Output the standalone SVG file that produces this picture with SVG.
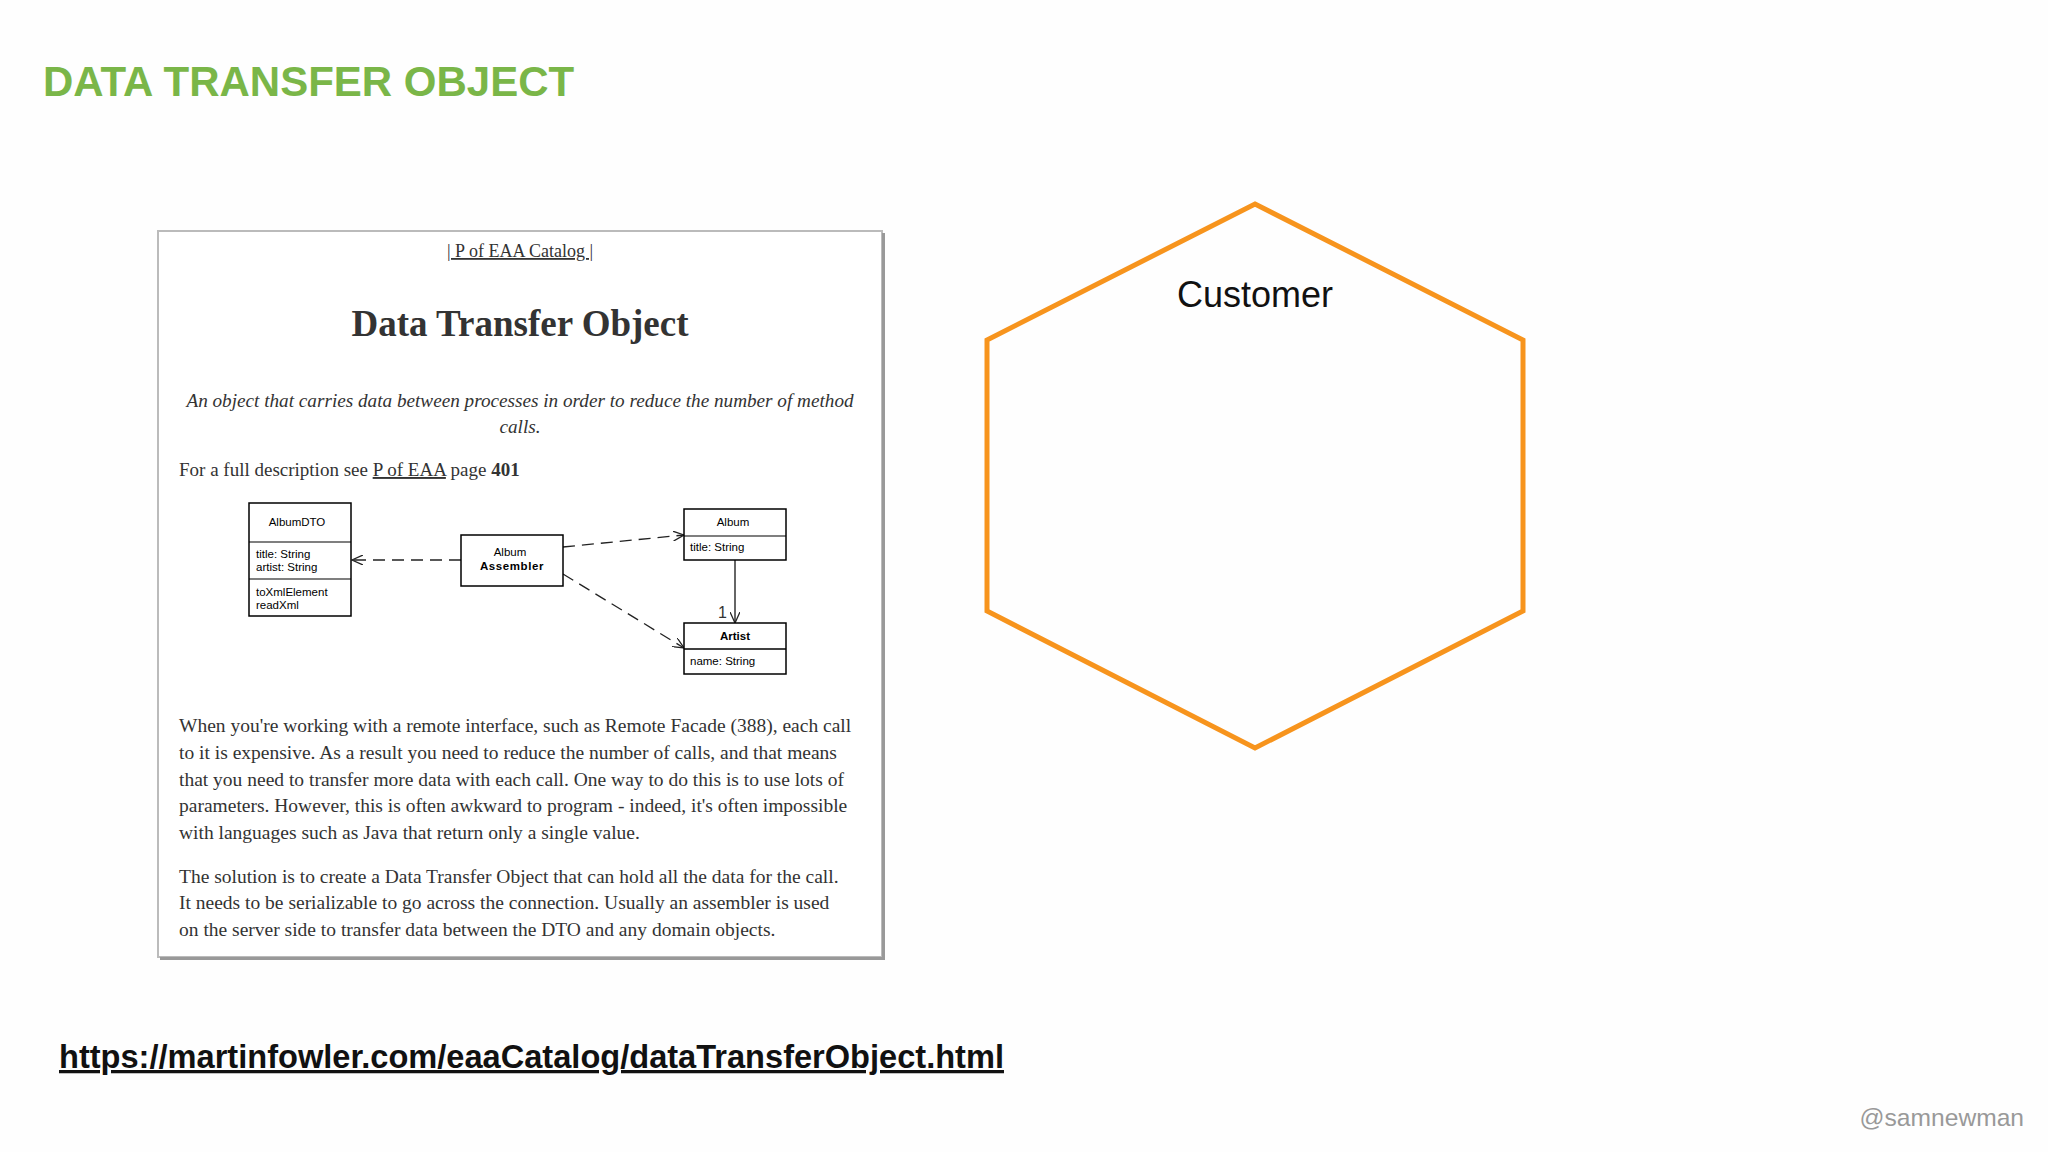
<svg xmlns="http://www.w3.org/2000/svg" width="2048" height="1152" viewBox="0 0 2048 1152">
<style>
.serif{font-family:"Liberation Serif","DejaVu Serif",serif;fill:#333}
.uml{font-family:"Liberation Sans",Arial,sans-serif;font-size:11.5px;fill:#000}
.box{fill:#fff;stroke:#000;stroke-width:1.5}
.dash{stroke:#222;stroke-width:1.3;stroke-dasharray:12 7;fill:none}
</style>
<defs>
<marker id="open" markerWidth="12" markerHeight="10" refX="11" refY="5" orient="auto" markerUnits="userSpaceOnUse">
<path d="M0,0 L11,5 L0,10" fill="none" stroke="#222" stroke-width="1.3"/>
</marker>
</defs>
<rect width="2048" height="1152" fill="#fefefe"/>
<text x="43" y="96" font-family="Liberation Sans,Arial,sans-serif" font-weight="bold" font-size="42" fill="#7ab648">DATA TRANSFER OBJECT</text>

<g id="panel">
<rect x="158" y="231" width="724" height="726" fill="#fff" stroke="#bbb" stroke-width="2"/>
<rect x="882" y="233" width="3" height="726" fill="#999"/>
<rect x="160" y="957" width="725" height="3" fill="#999"/>
<text x="520" y="257" class="serif" font-size="18" text-anchor="middle" text-decoration="underline">| P of EAA Catalog |</text>
<text x="520" y="336" class="serif" font-size="37" font-weight="bold" text-anchor="middle">Data Transfer Object</text>
<text x="520" y="407" class="serif" font-size="19.2" font-style="italic" text-anchor="middle">An object that carries data between processes in order to reduce the number of method</text>
<text x="520" y="433" class="serif" font-size="19.2" font-style="italic" text-anchor="middle">calls.</text>
<text x="179" y="476" class="serif" font-size="19">For a full description see <tspan text-decoration="underline">P of EAA</tspan> page <tspan font-weight="bold">401</tspan></text>
<g class="serif" font-size="19.5">
<text x="179" y="732">When you're working with a remote interface, such as Remote Facade (388), each call</text>
<text x="179" y="759">to it is expensive. As a result you need to reduce the number of calls, and that means</text>
<text x="179" y="786">that you need to transfer more data with each call. One way to do this is to use lots of</text>
<text x="179" y="812">parameters. However, this is often awkward to program - indeed, it's often impossible</text>
<text x="179" y="839">with languages such as Java that return only a single value.</text>
<text x="179" y="883">The solution is to create a Data Transfer Object that can hold all the data for the call.</text>
<text x="179" y="909">It needs to be serializable to go across the connection. Usually an assembler is used</text>
<text x="179" y="936">on the server side to transfer data between the DTO and any domain objects.</text>
</g>
</g>

<g id="connectors">
<line x1="461" y1="560" x2="352" y2="560" class="dash" marker-end="url(#open)"/>
<line x1="563" y1="547" x2="684" y2="535" class="dash" marker-end="url(#open)"/>
<line x1="563" y1="574" x2="684" y2="648" class="dash" marker-end="url(#open)"/>
<line x1="735" y1="560" x2="735" y2="623" stroke="#333" stroke-width="1.5" marker-end="url(#open)"/>
<text x="718" y="618" font-family="Liberation Sans,Arial,sans-serif" font-size="16" fill="#333">1</text>
</g>

<g id="albumdto">
<rect x="249" y="503" width="102" height="113" class="box"/>
<line x1="249" y1="542" x2="351" y2="542" stroke="#000" stroke-width="1.2"/>
<line x1="249" y1="579" x2="351" y2="579" stroke="#000" stroke-width="1.2"/>
<text x="297" y="526" class="uml" text-anchor="middle">AlbumDTO</text>
<text x="256" y="558" class="uml">title: String</text>
<text x="256" y="571" class="uml">artist: String</text>
<text x="256" y="596" class="uml">toXmlElement</text>
<text x="256" y="609" class="uml">readXml</text>
</g>
<g id="assembler">
<rect x="461" y="535" width="102" height="51" class="box"/>
<text x="510" y="556" class="uml" text-anchor="middle">Album</text>
<text x="512" y="570" class="uml" text-anchor="middle" font-weight="bold" letter-spacing="0.6">Assembler</text>
</g>
<g id="album">
<rect x="684" y="509" width="102" height="51" class="box"/>
<line x1="684" y1="536" x2="786" y2="536" stroke="#000" stroke-width="1.2"/>
<text x="733" y="526" class="uml" text-anchor="middle">Album</text>
<text x="690" y="551" class="uml">title: String</text>
</g>
<g id="artist">
<rect x="684" y="623" width="102" height="51" class="box"/>
<line x1="684" y1="649" x2="786" y2="649" stroke="#000" stroke-width="1.5"/>
<text x="735" y="640" class="uml" text-anchor="middle" font-weight="bold">Artist</text>
<text x="690" y="665" class="uml">name: String</text>
</g>

<g id="customer">
<polygon points="1255,204 1523,340 1523,611 1255,748 987,611 987,340" fill="none" stroke="#f7941d" stroke-width="5"/>
<text x="1255" y="307" font-family="Liberation Sans,Arial,sans-serif" font-size="36" fill="#111" text-anchor="middle">Customer</text>
</g>

<text x="59" y="1068" font-family="Liberation Sans,Arial,sans-serif" font-weight="bold" font-size="32.6" fill="#111" text-decoration="underline">https://martinfowler.com/eaaCatalog/dataTransferObject.html</text>
<text x="2024" y="1126" font-family="Liberation Sans,Arial,sans-serif" font-size="24.6" fill="#999" text-anchor="end">@samnewman</text>
</svg>
